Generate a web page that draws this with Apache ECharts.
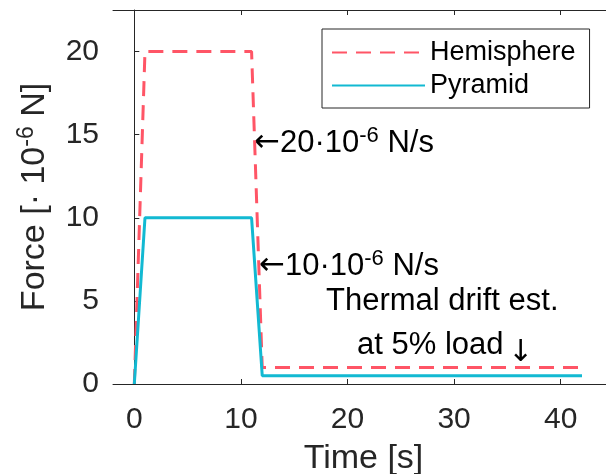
<!DOCTYPE html>
<html>
<head>
<meta charset="utf-8">
<script src="https://cdn.jsdelivr.net/npm/echarts@6/dist/echarts.min.js"></script>
<style>
  html, body { margin: 0; padding: 0; background: #fff; }
  #main { width: 606px; height: 474px; }
</style>
</head>
<body>
<div id="main"></div>
<script>
// data
const timeHemi = [0, 1, 11, 12, 42];
const forceHemi = [0, 20, 20, 1, 1];
const timePyr = [0, 1, 11, 12, 42];
const forcePyr = [0, 10, 10, 0.5, 0.5];
const xTicks = [0, 10, 20, 30, 40];
const yTicks = [0, 5, 10, 15, 20];

const FONT = '"Liberation Sans", Arial, "DejaVu Sans", sans-serif';
const AX = '#262626';
const RED = '#ff5566';
const CYAN = '#12b9d2';

const pairs = (xs, ys) => xs.map((x, i) => [x, ys[i]]);

const mychart = echarts.init(document.getElementById('main'));

const sup = { fontSize: 22, verticalAlign: 'top', lineHeight: 36, fontFamily: FONT, fill: '#000' };
const txt = { fontSize: 31, lineHeight: 36, fontFamily: FONT, fill: '#000' };
const arr = { fontSize: 31, lineHeight: 36, fontFamily: '"DejaVu Sans", sans-serif', fill: '#000' };

const option = {
  animation: false,
  grid: { left: 113, top: 10, right: -8, bottom: 90, outerBoundsMode: 'none', containLabel: false },
  legend: {
    left: 322, top: 29,
    orient: 'vertical',
    backgroundColor: '#fff',
    borderColor: AX, borderWidth: 1, borderRadius: 0,
    padding: [10, 14, 9, 9],
    itemWidth: 93, itemHeight: 26, itemGap: 6,
    itemStyle: { opacity: 0 },
    textStyle: { fontSize: 27, fontFamily: FONT, color: '#000' },
    data: ['Hemisphere', 'Pyramid']
  },
  xAxis: [{
    type: 'value', min: -2, max: 45,
    name: 'Time [s]', nameLocation: 'middle', nameGap: 58,
    nameTextStyle: { fontSize: 34, fontFamily: FONT, color: AX },
    axisLine: { show: true, lineStyle: { color: AX, width: 1 } },
    axisTick: { show: true, inside: true, length: 5, customValues: xTicks, lineStyle: { color: AX } },
    axisLabel: { customValues: xTicks, fontSize: 30, fontFamily: FONT, color: AX, margin: 21 },
    splitLine: { show: false }
  }, {
    type: 'value', min: -2, max: 45, position: 'top',
    axisLine: { show: true, lineStyle: { color: AX, width: 1 } },
    axisTick: { show: true, inside: true, length: 5, customValues: xTicks, lineStyle: { color: AX } },
    axisLabel: { show: false },
    splitLine: { show: false }
  }],
  yAxis: {
    type: 'value', min: 0, max: 22.5,
    name: 'Force [· 10{s|-6} N]', nameLocation: 'middle', nameGap: 58,
    nameTextStyle: {
      fontSize: 34, fontFamily: FONT, color: AX,
      rich: { s: { fontSize: 23, verticalAlign: 'top', fontFamily: FONT, color: AX, lineHeight: 40 } },
      lineHeight: 40
    },
    axisLine: { show: true, lineStyle: { color: AX, width: 1 } },
    axisTick: { show: true, inside: true, length: 5, customValues: yTicks, lineStyle: { color: AX } },
    axisLabel: { customValues: yTicks, fontSize: 30, fontFamily: FONT, color: AX, margin: 14 },
    splitLine: { show: false }
  },
  series: [{
    name: 'Hemisphere', type: 'line', showSymbol: false, symbol: 'none',
    data: pairs(timeHemi, forceHemi),
    lineStyle: { color: RED, width: 3, type: [15, 9] },
    itemStyle: { color: RED },
    z: 2
  }, {
    name: 'Pyramid', type: 'line', showSymbol: false, symbol: 'none',
    data: pairs(timePyr, forcePyr),
    lineStyle: { color: CYAN, width: 3 },
    itemStyle: { color: CYAN },
    z: 3
  }],
  graphic: [{
    type: 'text', x: 254, y: 143,
    style: {
      text: '{a|←}{t|20·10}{s|-6}{t| N/s}',
      verticalAlign: 'middle',
      rich: { a: arr, t: txt, s: sup }
    }
  }, {
    type: 'text', x: 259, y: 266,
    style: {
      text: '{a|←}{t|10·10}{s|-6}{t| N/s}',
      verticalAlign: 'middle',
      rich: { a: arr, t: txt, s: sup }
    }
  }, {
    type: 'text', x: 326, y: 301,
    style: { text: 'Thermal drift est.', verticalAlign: 'middle', font: '31px ' + FONT, fill: '#000' }
  }, {
    type: 'text', x: 357, y: 345,
    style: { text: 'at 5% load', verticalAlign: 'middle', font: '31px ' + FONT, fill: '#000' }
  }, {
    type: 'text', x: 508, y: 353,
    style: { text: '↓', verticalAlign: 'middle', font: '30px "DejaVu Sans", sans-serif', fill: '#000' }
  }]
};

mychart.setOption(option);
</script>
</body>
</html>
